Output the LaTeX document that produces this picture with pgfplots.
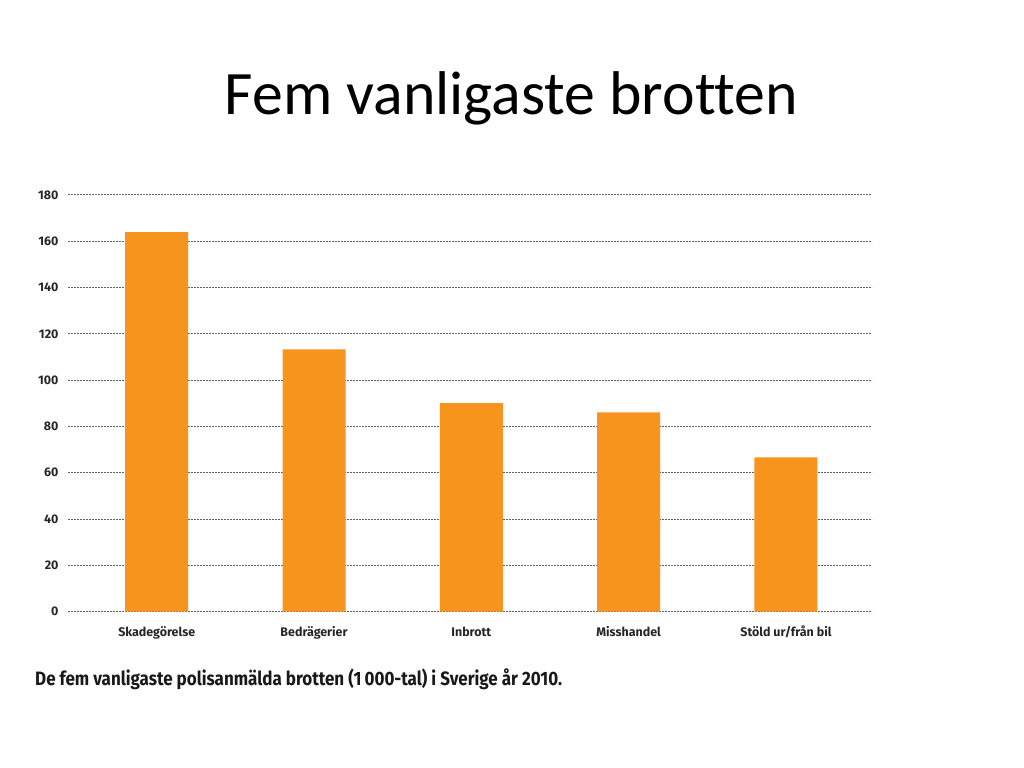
\documentclass[border=0pt]{standalone}
\usepackage{fontspec}
\setmainfont{Carlito}[Ligatures=NoCommon]
\newfontfamily\dinfont{Fira Sans}
\newfontfamily\dinnarrow[FakeStretch=0.88]{Fira Sans}
\usepackage{pgfplots}
\pgfplotsset{compat=1.18}
\definecolor{barorange}{RGB}{247,148,30}
\definecolor{gridgray}{RGB}{95,95,95}

\begin{document}
\begin{tikzpicture}[x=1bp,y=1bp]
\path[use as bounding box] (0,0) rectangle (1024,768);
\node[anchor=base, font=\fontsize{62}{64}\selectfont, inner sep=0] at (511.5,653) {Fem vanligaste brotten};
\begin{axis}[
	at={(68bp,156.3bp)}, anchor=south west,
	scale only axis, width=804bp, height=416.7bp,
	xmin=-0.564, xmax=4.547, ymin=0, ymax=180,
	axis line style={draw=none},
	ytick={0,20,...,180},
	ymajorgrids,
	grid style={gridgray, line width=1bp, dash pattern=on 2bp off 1bp},
	major tick length=0pt,
	xtick=data,
	xticklabels={Skadegörelse,Bedrägerier,Inbrott,Misshandel,Stöld ur/från bil},
	ticklabel style={font=\dinfont\bfseries\fontsize{12.5}{13}\selectfont, text=black!85},
	yticklabel style={xshift=-6bp},
	xticklabel style={text height=9.5bp, text depth=3bp, yshift=-12bp},
	/pgf/number format/assume math mode=true,
	ybar, bar width=63bp,
]
\addplot[fill=barorange, draw=none] coordinates {
	(0,164.0) (1,113.3) (2,90.1) (3,86.1) (4,66.7)
};
\end{axis}
\node[anchor=base west, font=\dinnarrow\bfseries\fontsize{19.4}{20}\selectfont, inner sep=0, text=black!90] at (35,82) {De fem vanligaste polisanmälda brotten (1\,000-tal) i Sverige år 2010.};
\end{tikzpicture}
\end{document}
